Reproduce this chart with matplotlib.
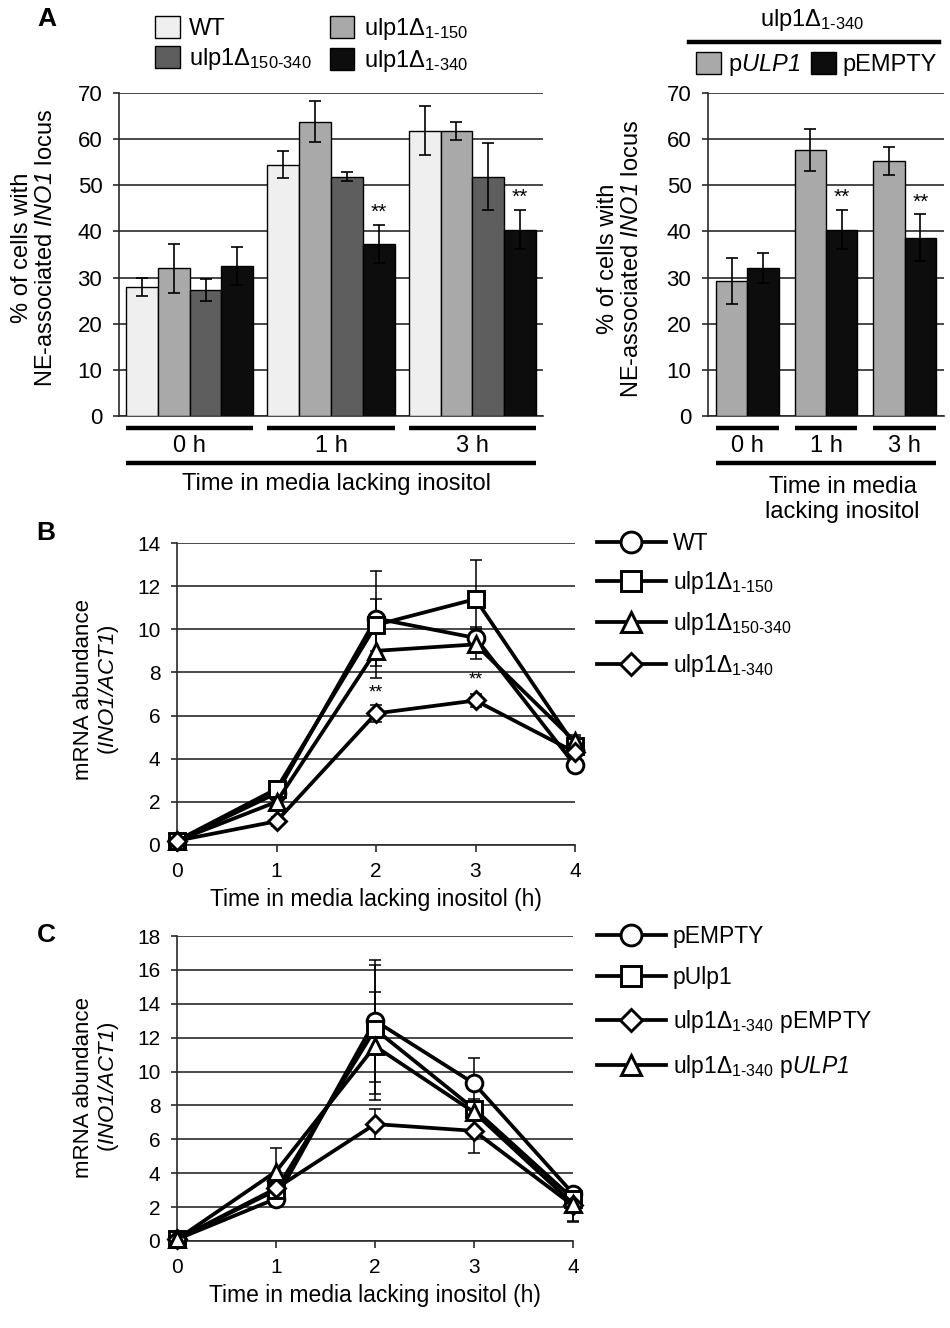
import numpy as np
import matplotlib.pyplot as plt
from matplotlib.lines import Line2D

plt.rcParams['font.family'] = ['Liberation Sans', 'DejaVu Sans']
plt.rcParams['mathtext.fontset'] = 'custom'
plt.rcParams['mathtext.rm'] = 'Liberation Sans'
plt.rcParams['mathtext.it'] = 'Liberation Sans:italic'
# sf slot used for italic gene names (digits included)
plt.rcParams['mathtext.sf'] = 'Liberation Sans:italic'
plt.rcParams['mathtext.bf'] = 'Liberation Sans:bold'

# ---------------- data ----------------
# panel A, left: % of cells with NE-associated INO1 locus
times_a = ['0 h', '1 h', '3 h']
lab_wt = 'WT'
lab_1_150 = r'ulp1Δ$_{\text{1-150}}$'
lab_150_340 = r'ulp1Δ$_{\text{150-340}}$'
lab_1_340 = r'ulp1Δ$_{\text{1-340}}$'
wt_a = [28.0, 54.5, 61.8]
wt_a_err = [2.0, 3.0, 5.3]
d1_150_a = [32.0, 63.8, 61.8]
d1_150_a_err = [5.3, 4.5, 1.9]
d150_340_a = [27.3, 51.9, 51.9]
d150_340_a_err = [2.3, 1.0, 7.2]
d1_340_a = [32.5, 37.3, 40.4]
d1_340_a_err = [4.2, 4.2, 4.3]
stars_a = [False, True, True]

# panel A, right: ulp1Δ1-340 + plasmid
lab_pulp1 = r'p$\mathsf{ULP1}$'
lab_pempty = 'pEMPTY'
pulp1_a = [29.3, 57.6, 55.2]
pulp1_a_err = [5.0, 4.6, 3.0]
pempty_a = [32.1, 40.4, 38.6]
pempty_a_err = [3.3, 4.3, 5.1]
stars_ar = [False, True, True]

# panel B: mRNA abundance
hours = [0, 1, 2, 3, 4]
wt_b = [0.2, 2.4, 10.5, 9.6, 3.7]
wt_b_err = [0.05, 0.3, 2.2, 0.5, 0.3]
d1_150_b = [0.2, 2.6, 10.2, 11.4, 4.6]
d1_150_b_err = [0.05, 0.3, 1.2, 1.8, 0.4]
d150_340_b = [0.2, 2.0, 9.0, 9.3, 4.8]
d150_340_b_err = [0.05, 0.3, 1.25, 0.7, 0.3]
d1_340_b = [0.2, 1.1, 6.1, 6.7, 4.3]
d1_340_b_err = [0.05, 0.2, 0.4, 0.3, 0.3]
stars_b = [False, False, True, True, False]

# panel C: mRNA abundance with plasmids
lab_c = ['pEMPTY', 'pUlp1', r'ulp1Δ$_{\text{1-340}}$ pEMPTY',
         r'ulp1Δ$_{\text{1-340}}$ p$\mathsf{ULP1}$']
pempty_c = [0.1, 2.5, 13.0, 9.3, 2.8]
pempty_c_err = [0.05, 0.3, 3.6, 1.5, 0.4]
pulp1_c = [0.1, 3.0, 12.5, 7.8, 2.5]
pulp1_c_err = [0.05, 0.3, 3.8, 0.6, 0.4]
d1_340_pempty_c = [0.1, 3.1, 6.9, 6.5, 2.1]
d1_340_pempty_c_err = [0.05, 0.3, 0.9, 1.3, 1.0]
d1_340_pulp1_c = [0.1, 4.1, 11.5, 7.6, 2.2]
d1_340_pulp1_c_err = [0.05, 1.4, 3.2, 0.5, 1.0]

# ---------------- figure ----------------
W, H = 950, 1328
fig = plt.figure(figsize=(W / 100, H / 100), dpi=100)
GRID = '#2a2a2a'


def add_ax(x0, y0, x1, y1):
    return fig.add_axes([x0 / W, 1 - y1 / H, (x1 - x0) / W, (y1 - y0) / H])


def fxy(x, y):
    return x / W, 1 - y / H


def base_style(ax, ymax, step, labelsize):
    ax.set_ylim(0, ymax)
    ax.set_yticks(np.arange(0, ymax + 1, step))
    ax.yaxis.grid(True, color=GRID, lw=1.2)
    ax.set_axisbelow(True)
    ax.spines['top'].set_visible(False)
    ax.spines['right'].set_visible(False)
    for s in ['left', 'bottom']:
        ax.spines[s].set_color(GRID)
        ax.spines[s].set_linewidth(1.2)
    ax.tick_params(axis='y', direction='out', length=4, width=1.2, color=GRID,
                   labelsize=labelsize, pad=8)


def bar_panel(ax, series, errs, colors, width, stars):
    x = np.arange(len(times_a))
    n = len(series)
    handles = []
    for i, (v, e, c) in enumerate(zip(series, errs, colors)):
        pos = x + (i - (n - 1) / 2) * width
        h = ax.bar(pos, v, width, color=c, edgecolor='black', linewidth=1.0, zorder=3)
        ax.errorbar(pos, v, yerr=e, fmt='none', ecolor='black', elinewidth=1.2,
                    capsize=4.5, capthick=1.2, zorder=4)
        handles.append(h)
        if i == n - 1:
            for xi, yi, ei, s in zip(pos, v, e, stars):
                if s:
                    ax.text(xi, yi + ei + 0.6, '**', ha='center', va='bottom', fontsize=15)
    ax.set_xlim(-0.5, 2.5)
    ax.set_xticks([])
    # group brackets under the bars
    tr = ax.get_xaxis_transform()
    half = n * width / 2
    for xi, t in zip(x, times_a):
        ax.plot([xi - half, xi + half], [-0.037, -0.037], transform=tr, color='black',
                lw=3.2, clip_on=False, solid_capstyle='butt')
        ax.text(xi, -0.092, t, transform=tr, ha='center', va='center', fontsize=17)
    ax.plot([x[0] - half, x[-1] + half], [-0.146, -0.146], transform=tr, color='black',
            lw=3.2, clip_on=False, solid_capstyle='butt')
    return handles


# ---- panel A left ----
axL = add_ax(119, 93, 543, 416)
base_style(axL, 70, 10, 16)
hA = bar_panel(axL, [wt_a, d1_150_a, d150_340_a, d1_340_a],
               [wt_a_err, d1_150_a_err, d150_340_a_err, d1_340_a_err],
               ['#efefef', '#a9a9a9', '#5e5e5e', '#0d0d0d'], 0.225, stars_a)
axL.text(1.04, -0.212, 'Time in media lacking inositol', transform=axL.get_xaxis_transform(),
         ha='center', va='center', fontsize=17)
fig.text(*fxy(34, 248), '% of cells with\nNE-associated $\\mathsf{INO1}$ locus', rotation=90,
         ha='center', va='center', fontsize=17, linespacing=1.15)
axL.legend([hA[0], hA[2], hA[1], hA[3]], [lab_wt, lab_150_340, lab_1_150, lab_1_340],
           ncol=2, loc='upper left', bbox_to_anchor=fxy(155, 16), bbox_transform=fig.transFigure,
           frameon=False, fontsize=17, handlelength=1.05, handleheight=1.05, handletextpad=0.4,
           columnspacing=0.75, labelspacing=0.25, borderpad=0, borderaxespad=0)

# ---- panel A right ----
axR = add_ax(708, 93, 944, 416)
base_style(axR, 70, 10, 16)
hR = bar_panel(axR, [pulp1_a, pempty_a], [pulp1_a_err, pempty_a_err],
               ['#a9a9a9', '#0d0d0d'], 0.4, stars_ar)
axR.text(1.21, -0.258, 'Time in media\nlacking inositol', transform=axR.get_xaxis_transform(),
         ha='center', va='center', fontsize=17, linespacing=1.2)
fig.text(*fxy(620, 259), '% of cells with\nNE-associated $\\mathsf{INO1}$ locus', rotation=90,
         ha='center', va='center', fontsize=17, linespacing=1.15)
axR.legend(hR, [lab_pulp1, lab_pempty], ncol=2, loc='upper left', bbox_to_anchor=fxy(696, 52),
           bbox_transform=fig.transFigure, frameon=False, fontsize=17, handlelength=1.05,
           handleheight=1.05, handletextpad=0.3, columnspacing=0.45, borderpad=0, borderaxespad=0)
fig.text(*fxy(812, 20), lab_1_340, ha='center', va='center', fontsize=17)
fig.add_artist(Line2D([689 / W, 939 / W], [1 - 42 / H] * 2, color='black', lw=3.2))


# ---- line panels ----
def line_panel(ax, series, errs, markers, sizes, ymax, step):
    base_style(ax, ymax, step, 15)
    ax.set_xlim(0, 4)
    ax.set_xticks(hours)
    ax.tick_params(axis='x', direction='out', length=5, width=1.2, color=GRID,
                   labelsize=15, pad=7)
    for v, e in zip(series, errs):
        ax.errorbar(hours, v, yerr=e, fmt='none', ecolor='black', elinewidth=1.1,
                    capsize=4.5, capthick=1.1, zorder=2, clip_on=False)
    handles = []
    for i, (v, m, ms) in enumerate(zip(series, markers, sizes)):
        ln, = ax.plot(hours, v, color='black', lw=2.7, marker=m, ms=ms, mfc='white',
                      mec='black', mew=2.1, zorder=3 + i, clip_on=False)
        handles.append(ln)
    ax.set_xlabel('Time in media lacking inositol (h)', fontsize=16.5, labelpad=5)
    return handles


# ---- panel B ----
axB = add_ax(177, 543, 575, 845)
hB = line_panel(axB, [wt_b, d1_150_b, d150_340_b, d1_340_b],
                [wt_b_err, d1_150_b_err, d150_340_b_err, d1_340_b_err],
                ['o', 's', '^', 'D'], [12, 11, 12, 9], 14, 2)
for xi, yi, s in zip(hours, d1_340_b, stars_b):
    if s:
        axB.text(xi, yi + 0.55, '**', ha='center', va='bottom', fontsize=13)
fig.text(*fxy(97, 690), 'mRNA abundance\n($\\mathsf{INO1/ACT1}$)', rotation=90,
         ha='center', va='center', fontsize=16, linespacing=1.15)
fig.legend(hB, [lab_wt, lab_1_150, lab_150_340, lab_1_340], loc='upper left',
           bbox_to_anchor=fxy(597, 532), frameon=False, fontsize=16.5, handlelength=3.0,
           handletextpad=0.3, labelspacing=0.62, markerscale=1.25, borderpad=0,
           borderaxespad=0)

# ---- panel C ----
axC = add_ax(177, 936, 573, 1241)
hC = line_panel(axC, [pempty_c, pulp1_c, d1_340_pempty_c, d1_340_pulp1_c],
                [pempty_c_err, pulp1_c_err, d1_340_pempty_c_err, d1_340_pulp1_c_err],
                ['o', 's', 'D', '^'], [12, 11, 9, 12], 18, 2)
fig.text(*fxy(97, 1087), 'mRNA abundance\n($\\mathsf{INO1/ACT1}$)', rotation=90,
         ha='center', va='center', fontsize=16, linespacing=1.15)
fig.legend(hC, lab_c, loc='upper left', bbox_to_anchor=fxy(597, 925), frameon=False,
           fontsize=16.5, handlelength=3.0, handletextpad=0.3, labelspacing=0.8,
           markerscale=1.25, borderpad=0, borderaxespad=0)

# panel letters
for letter, (px, py) in zip('ABC', [(47, 19), (46, 533), (46, 935)]):
    fig.text(*fxy(px, py), letter, ha='center', va='center', fontsize=19, fontweight='bold')

fig.savefig('out.png', dpi=100)
